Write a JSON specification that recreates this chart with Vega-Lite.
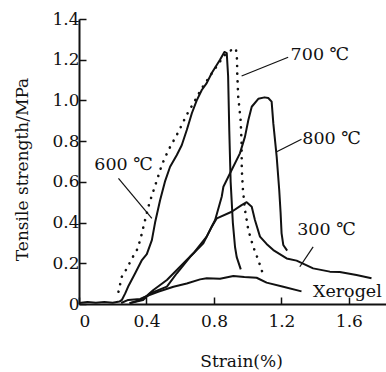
{
  "$schema": "https://vega.github.io/schema/vega-lite/v6.json",
  "autosize": "none",
  "width": 307,
  "height": 285,
  "padding": {"left": 79, "top": 19, "right": 0, "bottom": 68},
  "background": "white",
  "config": {
    "view": {"stroke": null},
    "font": "DejaVu Serif"
  },
  "datasets": {
    "curves": [
      {"s": "600", "i": 1, "x": 0.0, "y": 0.005},
      {"s": "600", "i": 2, "x": 0.05, "y": 0.01},
      {"s": "600", "i": 3, "x": 0.1, "y": 0.006},
      {"s": "600", "i": 4, "x": 0.15, "y": 0.01},
      {"s": "600", "i": 5, "x": 0.2, "y": 0.006},
      {"s": "600", "i": 6, "x": 0.24, "y": 0.012},
      {"s": "600", "i": 7, "x": 0.254, "y": 0.02},
      {"s": "600", "i": 8, "x": 0.274, "y": 0.052},
      {"s": "600", "i": 9, "x": 0.294, "y": 0.09},
      {"s": "600", "i": 10, "x": 0.333, "y": 0.151},
      {"s": "600", "i": 11, "x": 0.373, "y": 0.216},
      {"s": "600", "i": 12, "x": 0.402, "y": 0.245},
      {"s": "600", "i": 13, "x": 0.432, "y": 0.314},
      {"s": "600", "i": 14, "x": 0.451, "y": 0.4},
      {"s": "600", "i": 15, "x": 0.481, "y": 0.511},
      {"s": "600", "i": 16, "x": 0.511, "y": 0.605},
      {"s": "600", "i": 17, "x": 0.54, "y": 0.674},
      {"s": "600", "i": 18, "x": 0.58, "y": 0.732},
      {"s": "600", "i": 19, "x": 0.609, "y": 0.78},
      {"s": "600", "i": 20, "x": 0.639, "y": 0.855},
      {"s": "600", "i": 21, "x": 0.669, "y": 0.937},
      {"s": "600", "i": 22, "x": 0.698, "y": 1.0},
      {"s": "600", "i": 23, "x": 0.728, "y": 1.051},
      {"s": "600", "i": 24, "x": 0.757, "y": 1.085},
      {"s": "600", "i": 25, "x": 0.787, "y": 1.135},
      {"s": "600", "i": 26, "x": 0.836, "y": 1.2},
      {"s": "600", "i": 27, "x": 0.862, "y": 1.238},
      {"s": "600", "i": 28, "x": 0.876, "y": 1.232},
      {"s": "600", "i": 29, "x": 0.884, "y": 1.12},
      {"s": "600", "i": 30, "x": 0.891, "y": 0.85},
      {"s": "600", "i": 31, "x": 0.899, "y": 0.6},
      {"s": "600", "i": 32, "x": 0.912, "y": 0.4},
      {"s": "600", "i": 33, "x": 0.925, "y": 0.28},
      {"s": "600", "i": 34, "x": 0.935, "y": 0.23},
      {"s": "600", "i": 35, "x": 0.959, "y": 0.17},

      {"s": "700", "i": 1, "x": 0.234, "y": 0.06},
      {"s": "700", "i": 2, "x": 0.254, "y": 0.134},
      {"s": "700", "i": 3, "x": 0.284, "y": 0.175},
      {"s": "700", "i": 4, "x": 0.314, "y": 0.224},
      {"s": "700", "i": 5, "x": 0.343, "y": 0.265},
      {"s": "700", "i": 6, "x": 0.363, "y": 0.314},
      {"s": "700", "i": 7, "x": 0.392, "y": 0.413},
      {"s": "700", "i": 8, "x": 0.417, "y": 0.495},
      {"s": "700", "i": 9, "x": 0.456, "y": 0.593},
      {"s": "700", "i": 10, "x": 0.491, "y": 0.683},
      {"s": "700", "i": 11, "x": 0.53, "y": 0.756},
      {"s": "700", "i": 12, "x": 0.589, "y": 0.845},
      {"s": "700", "i": 13, "x": 0.639, "y": 0.93},
      {"s": "700", "i": 14, "x": 0.688, "y": 1.0},
      {"s": "700", "i": 15, "x": 0.728, "y": 1.06},
      {"s": "700", "i": 16, "x": 0.777, "y": 1.12},
      {"s": "700", "i": 17, "x": 0.826, "y": 1.18},
      {"s": "700", "i": 18, "x": 0.866, "y": 1.225},
      {"s": "700", "i": 19, "x": 0.895, "y": 1.244},
      {"s": "700", "i": 20, "x": 0.93, "y": 1.256},
      {"s": "700", "i": 21, "x": 0.937, "y": 1.2},
      {"s": "700", "i": 22, "x": 0.938, "y": 1.133},
      {"s": "700", "i": 23, "x": 0.944, "y": 1.018},
      {"s": "700", "i": 24, "x": 0.958, "y": 0.904},
      {"s": "700", "i": 25, "x": 0.964, "y": 0.79},
      {"s": "700", "i": 26, "x": 0.965, "y": 0.66},
      {"s": "700", "i": 27, "x": 0.972, "y": 0.56},
      {"s": "700", "i": 28, "x": 0.984, "y": 0.462},
      {"s": "700", "i": 29, "x": 1.004, "y": 0.363},
      {"s": "700", "i": 30, "x": 1.033, "y": 0.281},
      {"s": "700", "i": 31, "x": 1.063, "y": 0.216},
      {"s": "700", "i": 32, "x": 1.089, "y": 0.151},

      {"s": "800", "i": 1, "x": 0.3, "y": 0.004},
      {"s": "800", "i": 2, "x": 0.363, "y": 0.02},
      {"s": "800", "i": 3, "x": 0.402, "y": 0.04},
      {"s": "800", "i": 4, "x": 0.441, "y": 0.069},
      {"s": "800", "i": 5, "x": 0.521, "y": 0.118},
      {"s": "800", "i": 6, "x": 0.599, "y": 0.183},
      {"s": "800", "i": 7, "x": 0.678, "y": 0.249},
      {"s": "800", "i": 8, "x": 0.757, "y": 0.331},
      {"s": "800", "i": 9, "x": 0.807, "y": 0.413},
      {"s": "800", "i": 10, "x": 0.846, "y": 0.527},
      {"s": "800", "i": 11, "x": 0.856, "y": 0.576},
      {"s": "800", "i": 12, "x": 0.905, "y": 0.658},
      {"s": "800", "i": 13, "x": 0.954, "y": 0.74},
      {"s": "800", "i": 14, "x": 0.984, "y": 0.822},
      {"s": "800", "i": 15, "x": 1.004, "y": 0.904},
      {"s": "800", "i": 16, "x": 1.024, "y": 0.969},
      {"s": "800", "i": 17, "x": 1.063, "y": 1.008},
      {"s": "800", "i": 18, "x": 1.1, "y": 1.015},
      {"s": "800", "i": 19, "x": 1.122, "y": 1.012},
      {"s": "800", "i": 20, "x": 1.142, "y": 0.994},
      {"s": "800", "i": 21, "x": 1.152, "y": 0.887},
      {"s": "800", "i": 22, "x": 1.172, "y": 0.723},
      {"s": "800", "i": 23, "x": 1.187, "y": 0.56},
      {"s": "800", "i": 24, "x": 1.195, "y": 0.45},
      {"s": "800", "i": 25, "x": 1.201, "y": 0.347},
      {"s": "800", "i": 26, "x": 1.211, "y": 0.29},
      {"s": "800", "i": 27, "x": 1.234, "y": 0.262},

      {"s": "300", "i": 1, "x": 0.3, "y": 0.004},
      {"s": "300", "i": 2, "x": 0.38, "y": 0.02},
      {"s": "300", "i": 3, "x": 0.422, "y": 0.052},
      {"s": "300", "i": 4, "x": 0.521, "y": 0.085},
      {"s": "300", "i": 5, "x": 0.58, "y": 0.151},
      {"s": "300", "i": 6, "x": 0.659, "y": 0.232},
      {"s": "300", "i": 7, "x": 0.737, "y": 0.298},
      {"s": "300", "i": 8, "x": 0.787, "y": 0.38},
      {"s": "300", "i": 9, "x": 0.817, "y": 0.421},
      {"s": "300", "i": 10, "x": 0.905, "y": 0.453},
      {"s": "300", "i": 11, "x": 0.964, "y": 0.486},
      {"s": "300", "i": 12, "x": 0.994, "y": 0.5},
      {"s": "300", "i": 13, "x": 1.024, "y": 0.478},
      {"s": "300", "i": 14, "x": 1.043, "y": 0.413},
      {"s": "300", "i": 15, "x": 1.073, "y": 0.331},
      {"s": "300", "i": 16, "x": 1.112, "y": 0.295},
      {"s": "300", "i": 17, "x": 1.152, "y": 0.265},
      {"s": "300", "i": 18, "x": 1.231, "y": 0.224},
      {"s": "300", "i": 19, "x": 1.29, "y": 0.213},
      {"s": "300", "i": 20, "x": 1.388, "y": 0.175},
      {"s": "300", "i": 21, "x": 1.487, "y": 0.159},
      {"s": "300", "i": 22, "x": 1.546, "y": 0.157},
      {"s": "300", "i": 23, "x": 1.645, "y": 0.142},
      {"s": "300", "i": 24, "x": 1.734, "y": 0.126},

      {"s": "Xerogel", "i": 1, "x": 0.25, "y": 0.005},
      {"s": "Xerogel", "i": 2, "x": 0.292, "y": 0.02},
      {"s": "Xerogel", "i": 3, "x": 0.363, "y": 0.025},
      {"s": "Xerogel", "i": 4, "x": 0.39, "y": 0.035},
      {"s": "Xerogel", "i": 5, "x": 0.469, "y": 0.06},
      {"s": "Xerogel", "i": 6, "x": 0.56, "y": 0.085},
      {"s": "Xerogel", "i": 7, "x": 0.639, "y": 0.101},
      {"s": "Xerogel", "i": 8, "x": 0.718, "y": 0.121},
      {"s": "Xerogel", "i": 9, "x": 0.757, "y": 0.126},
      {"s": "Xerogel", "i": 10, "x": 0.836, "y": 0.124},
      {"s": "Xerogel", "i": 11, "x": 0.915, "y": 0.138},
      {"s": "Xerogel", "i": 12, "x": 0.98, "y": 0.133},
      {"s": "Xerogel", "i": 13, "x": 1.053, "y": 0.129},
      {"s": "Xerogel", "i": 14, "x": 1.112, "y": 0.105},
      {"s": "Xerogel", "i": 15, "x": 1.211, "y": 0.085},
      {"s": "Xerogel", "i": 16, "x": 1.319, "y": 0.062}
    ],
    "leaders": [
      {"x": 0.234, "y": 0.617, "x2": 0.432, "y2": 0.421},
      {"x": 1.24, "y": 1.212, "x2": 0.964, "y2": 1.12},
      {"x": 1.319, "y": 0.809, "x2": 1.172, "y2": 0.748},
      {"x": 1.388, "y": 0.281, "x2": 1.309, "y2": 0.183}
    ],
    "labels": [
      {"label": "600 ℃", "x": 0.264, "y": 0.658},
      {"label": "700 ℃", "x": 1.428, "y": 1.198},
      {"label": "800 ℃", "x": 1.497, "y": 0.786},
      {"label": "300 ℃", "x": 1.467, "y": 0.339},
      {"label": "Xerogel", "x": 1.591, "y": 0.034}
    ]
  },
  "layer": [
    {
      "data": {"name": "curves"},
      "transform": [{"filter": "datum.s != '700'"}],
      "mark": {"type": "line", "color": "#111", "strokeWidth": 2, "strokeJoin": "round", "clip": true},
      "encoding": {
        "x": {
          "field": "x", "type": "quantitative",
          "scale": {"domain": [0, 1.82], "nice": false, "zero": true},
          "axis": {
            "values": [0, 0.4, 0.8, 1.2, 1.6],
            "labelExpr": "datum.value == 0 ? '0' : format(datum.value, '.1f')",
            "labelFont": "DejaVu Serif", "labelFontSize": 17, "labelColor": "#111",
            "labelPadding": 16,
            "grid": false,
            "domainColor": "#111", "domainWidth": 2,
            "tickColor": "#111", "tickWidth": 1.5, "tickSize": -7,
            "title": "Strain(%)",
            "titleFont": "DejaVu Serif", "titleFontSize": 17, "titleFontWeight": "normal", "titleColor": "#111",
            "titleX": 162, "titleY": 62, "titleBaseline": "alphabetic", "titleAlign": "center"
          }
        },
        "y": {
          "field": "y", "type": "quantitative",
          "scale": {"domain": [0, 1.4], "nice": false},
          "axis": {
            "values": [0, 0.2, 0.4, 0.6, 0.8, 1.0, 1.2, 1.4],
            "labelExpr": "datum.value == 0 ? '0' : format(datum.value, '.1f')",
            "labelFont": "DejaVu Serif", "labelFontSize": 17, "labelColor": "#111",
            "labelPadding": 7,
            "grid": false,
            "domainColor": "#111", "domainWidth": 2,
            "tickColor": "#111", "tickWidth": 1.5, "tickSize": -7,
            "title": "Tensile strength/MPa",
            "titleFont": "DejaVu Serif", "titleFontSize": 17, "titleFontWeight": "normal", "titleColor": "#111",
            "titleX": -52, "titleY": 150, "titleBaseline": "alphabetic", "titleAlign": "center", "titleAngle": 270
          }
        },
        "detail": {"field": "s"},
        "order": {"field": "i", "type": "quantitative"}
      }
    },
    {
      "data": {"name": "curves"},
      "transform": [{"filter": "datum.s == '700'"}],
      "mark": {"type": "line", "color": "#111", "strokeWidth": 2.6, "strokeCap": "round", "strokeDash": [0.1, 7.6]},
      "encoding": {
        "x": {"field": "x", "type": "quantitative"},
        "y": {"field": "y", "type": "quantitative"},
        "order": {"field": "i", "type": "quantitative"}
      }
    },
    {
      "data": {"name": "leaders"},
      "mark": {"type": "rule", "color": "#111", "strokeWidth": 1.2},
      "encoding": {
        "x": {"field": "x", "type": "quantitative"},
        "y": {"field": "y", "type": "quantitative"},
        "x2": {"field": "x2"},
        "y2": {"field": "y2"}
      }
    },
    {
      "data": {"name": "labels"},
      "mark": {"type": "text", "font": "DejaVu Serif", "fontSize": 17.5, "color": "#111", "align": "center", "baseline": "alphabetic"},
      "encoding": {
        "x": {"field": "x", "type": "quantitative"},
        "y": {"field": "y", "type": "quantitative"},
        "text": {"field": "label"}
      }
    },
    {
      "mark": {"type": "rule", "color": "#111", "strokeWidth": 1.5},
      "encoding": {"y": {"datum": 1.4}}
    }
  ]
}
